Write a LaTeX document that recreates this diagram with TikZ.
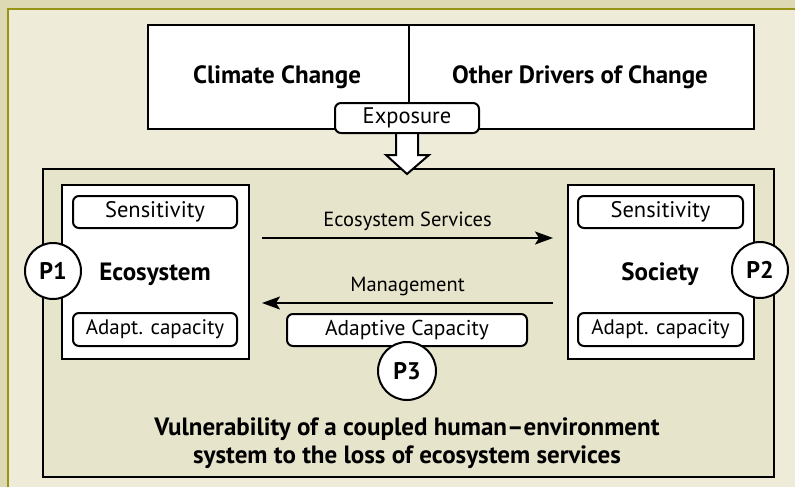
\documentclass[tikz,border=0pt]{standalone}
\usepackage{fontspec}
\setmainfont{PT Sans}
\usetikzlibrary{arrows.meta}
\definecolor{outerbg}{RGB}{221,217,178}
\definecolor{panelbg}{RGB}{238,236,216}
\definecolor{innerbg}{RGB}{230,228,203}
\definecolor{frameline}{RGB}{150,148,20}
\tikzset{
  box/.style={draw=black, line width=2pt, fill=white},
  pill/.style={draw=black, line width=2pt, fill=white, rounded corners=6pt, font=\fontsize{22.5}{26}\selectfont},
  pcirc/.style={circle, draw=black, line width=2pt, fill=white, minimum size=56pt, inner sep=0pt, font=\bfseries\fontsize{24}{27}\selectfont},
  arr/.style={line width=2pt, -{Stealth[length=18pt,width=13pt,inset=4pt]}},
  lbl/.style={font=\fontsize{20.5}{24}\selectfont},
  big/.style={font=\bfseries\fontsize{25}{28}\selectfont},
}
\begin{document}
\begin{tikzpicture}[x=1pt,y=-1pt]
\useasboundingbox (0,0) rectangle (795,487);
\fill[outerbg] (0,0) rectangle (795,487);
\fill[panelbg] (8,9) rectangle (795,487);
\draw[frameline, line width=2.5pt] (8,487) -- (8,9) -- (795,9);
% top boxes
\node[box, minimum width=261pt, minimum height=104pt, inner sep=0pt, anchor=north west] (cc) at (147,24) {};
\node[box, minimum width=345pt, minimum height=104pt, inner sep=0pt, anchor=north west] (od) at (408,24) {};
\node[big] at (277,77) {Climate Change};
\node[big] at (580,77) {Other Drivers of Change};
% big inner box
\node[draw=black, line width=2pt, fill=innerbg, minimum width=731pt, minimum height=308pt, anchor=north west, inner sep=0pt] (vuln) at (42,168) {};
% block arrow
\draw[line width=2pt, fill=white] (396,132) -- (396,155) -- (386,155) -- (407,174) -- (429,155) -- (418,155) -- (418,132);
\node[pill, minimum width=144pt, minimum height=30pt, inner sep=0pt] (exp) at (407,118) {Exposure};
% Ecosystem and Society
\node[box, minimum width=187pt, minimum height=174pt, inner sep=0pt, anchor=north west] (eco) at (61,184) {};
\node[box, minimum width=186pt, minimum height=174pt, inner sep=0pt, anchor=north west] (soc) at (567,184) {};
\node[pill, minimum width=164pt, minimum height=32pt, inner sep=0pt] (sens1) at (155,212) {Sensitivity};
\node[pill, minimum width=164pt, minimum height=33pt, inner sep=0pt] (ad1) at (155,329.5) {\fontsize{21}{24}\selectfont Adapt. capacity};
\node[pill, minimum width=165pt, minimum height=32pt, inner sep=0pt] (sens2) at (660.5,212) {Sensitivity};
\node[pill, minimum width=165pt, minimum height=33pt, inner sep=0pt] (ad2) at (660.5,329.5) {\fontsize{21}{24}\selectfont Adapt. capacity};
\node[big] at (155,274) {Ecosystem};
\node[big] at (660,274) {Society};
% arrows
\coordinate (es1) at (262,238);
\coordinate (es2) at (553,238);
\coordinate (m1) at (553,303);
\coordinate (m2) at (262,303);
\draw[arr] (es1) -- (es2) node[midway, above=3pt, lbl] {Ecosystem Services};
\draw[arr] (m1) -- (m2) node[midway, above=3pt, lbl] {Management};
\node[pill, minimum width=240pt, minimum height=32pt, inner sep=0pt] (adcap) at (407,330) {\fontsize{21.5}{24}\selectfont Adaptive Capacity};
% circles
\node[pcirc] (p1) at (53,271) {P1};
\node[pcirc] (p2) at (760,270) {P2};
\node[pcirc, minimum size=58pt] (p3) at (407,371) {P3};
% title
\node[big, align=center] at (407,443) {Vulnerability of a coupled human–environment\\system to the loss of ecosystem services};
\end{tikzpicture}
\end{document}
